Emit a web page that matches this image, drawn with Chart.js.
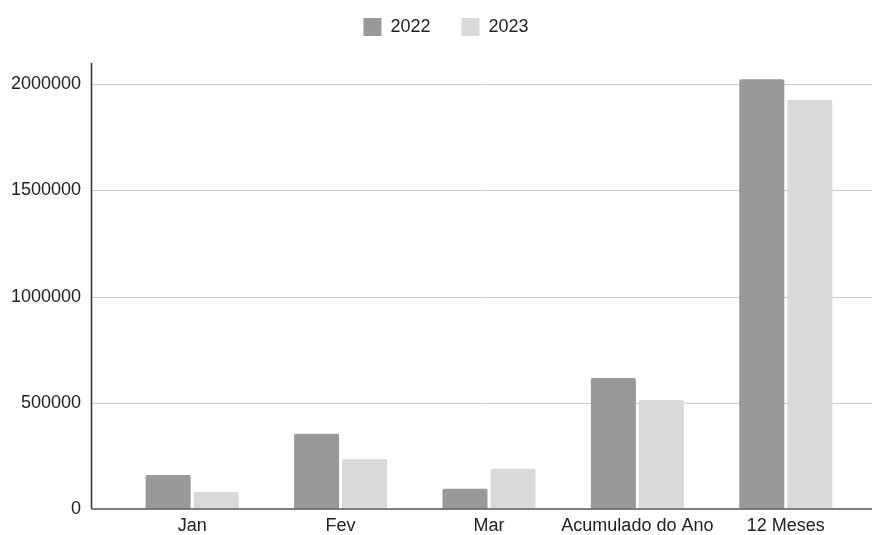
<!DOCTYPE html>
<html>
<head>
<meta charset="utf-8">
<script src="https://cdn.jsdelivr.net/npm/chart.js@4"></script>
<style>
    html, body { margin: 0; padding: 0; background: #fff; }
    #wrap { width: 872px; height: 535px; position: relative; }
</style>
</head>
<body>
<div id="wrap"><canvas id="chart"></canvas></div>
<script>
const categories = ['Jan', 'Fev', 'Mar', 'Acumulado do Ano', '12 Meses'];
const values2022 = [160000, 354000, 95000, 617000, 2023000];
const values2023 = [80000, 235000, 189000, 513000, 1926000];
const yTicks = [0, 500000, 1000000, 1500000, 2000000];

const axisLeft = 91.5;

// grid lines and axis lines drawn across the full width like the original
const axesPlugin = {
    id: 'axesPlugin',
    beforeDatasetsDraw(chart) {
        const ctx = chart.ctx;
        const y = chart.scales.y;
        ctx.save();
        ctx.strokeStyle = '#cccccc';
        ctx.lineWidth = 1;
        yTicks.forEach(v => {
            if (v === 0) return;
            const py = Math.round(y.getPixelForValue(v)) + 0.5;
            ctx.beginPath();
            ctx.moveTo(axisLeft, py);
            ctx.lineTo(chart.width, py);
            ctx.stroke();
        });
        ctx.restore();
    },
    afterDatasetsDraw(chart) {
        const ctx = chart.ctx;
        const y = chart.scales.y;
        const area = chart.chartArea;
        const base = y.getPixelForValue(0);
        ctx.save();
        ctx.strokeStyle = '#333333';
        ctx.lineWidth = 1.5;
        ctx.beginPath();
        ctx.moveTo(axisLeft, area.top);
        ctx.lineTo(axisLeft, base);
        ctx.stroke();
        ctx.strokeStyle = '#555555';
        ctx.beginPath();
        ctx.moveTo(axisLeft, base);
        ctx.lineTo(chart.width, base);
        ctx.stroke();
        ctx.restore();
    }
};

// legend: fixed height, nudged up and right
const legendPlugin = {
    id: 'legendPlacement',
    afterInit(chart) {
        const legend = chart.legend;
        const fit = legend.fit;
        legend.fit = function () {
            fit.call(this);
            this.height = 63;
        };
    },
    afterLayout(chart) {
        chart.legend.top -= 13;
        chart.legend.bottom -= 13;
        chart.legend.left += 16;
        chart.legend.right += 16;
    }
};

document.addEventListener('DOMContentLoaded', () => {
    Chart.defaults.font.family = '"Liberation Sans", Arial, sans-serif';
    Chart.defaults.font.size = 18;
    Chart.defaults.color = '#222222';

    const ctx = document.getElementById('chart').getContext('2d');
    new Chart(ctx, {
        type: 'bar',
        data: {
            labels: categories,
            datasets: [{
                label: '2022',
                data: values2022,
                backgroundColor: '#999999',
                borderRadius: 2,
                borderSkipped: 'start'
            }, {
                label: '2023',
                data: values2023,
                backgroundColor: '#d9d9d9',
                borderRadius: 2,
                borderSkipped: 'start'
            }]
        },
        options: {
            responsive: true,
            maintainAspectRatio: false,
            devicePixelRatio: 1,
            animation: false,
            categoryPercentage: 0.6476,
            barPercentage: 0.9375,
            layout: { padding: { top: 0, right: 12, left: 0, bottom: 0 } },
            plugins: {
                legend: {
                    position: 'top',
                    labels: {
                        boxWidth: 18,
                        boxHeight: 18,
                        padding: 31,
                        color: '#222222',
                        font: { size: 18 }
                    }
                },
                tooltip: { enabled: false }
            },
            scales: {
                x: {
                    grid: { display: false, drawTicks: false },
                    border: { display: false },
                    ticks: { padding: 6, maxRotation: 0, autoSkip: false },
                    afterFit(scale) { scale.height = 26; }
                },
                y: {
                    min: 0,
                    max: 2100000,
                    grid: {
                        display: true,
                        drawOnChartArea: false,
                        drawTicks: true,
                        tickLength: 37,
                        color: 'rgba(0,0,0,0)'
                    },
                    border: { display: false },
                    ticks: { padding: 0, stepSize: 500000, callback: v => String(v) },
                    afterBuildTicks(scale) {
                        scale.ticks = yTicks.map(v => ({ value: v }));
                    },
                    afterFit(scale) { scale.width = 118; }
                }
            }
        },
        plugins: [axesPlugin, legendPlugin]
    });
});
</script>
</body>
</html>
